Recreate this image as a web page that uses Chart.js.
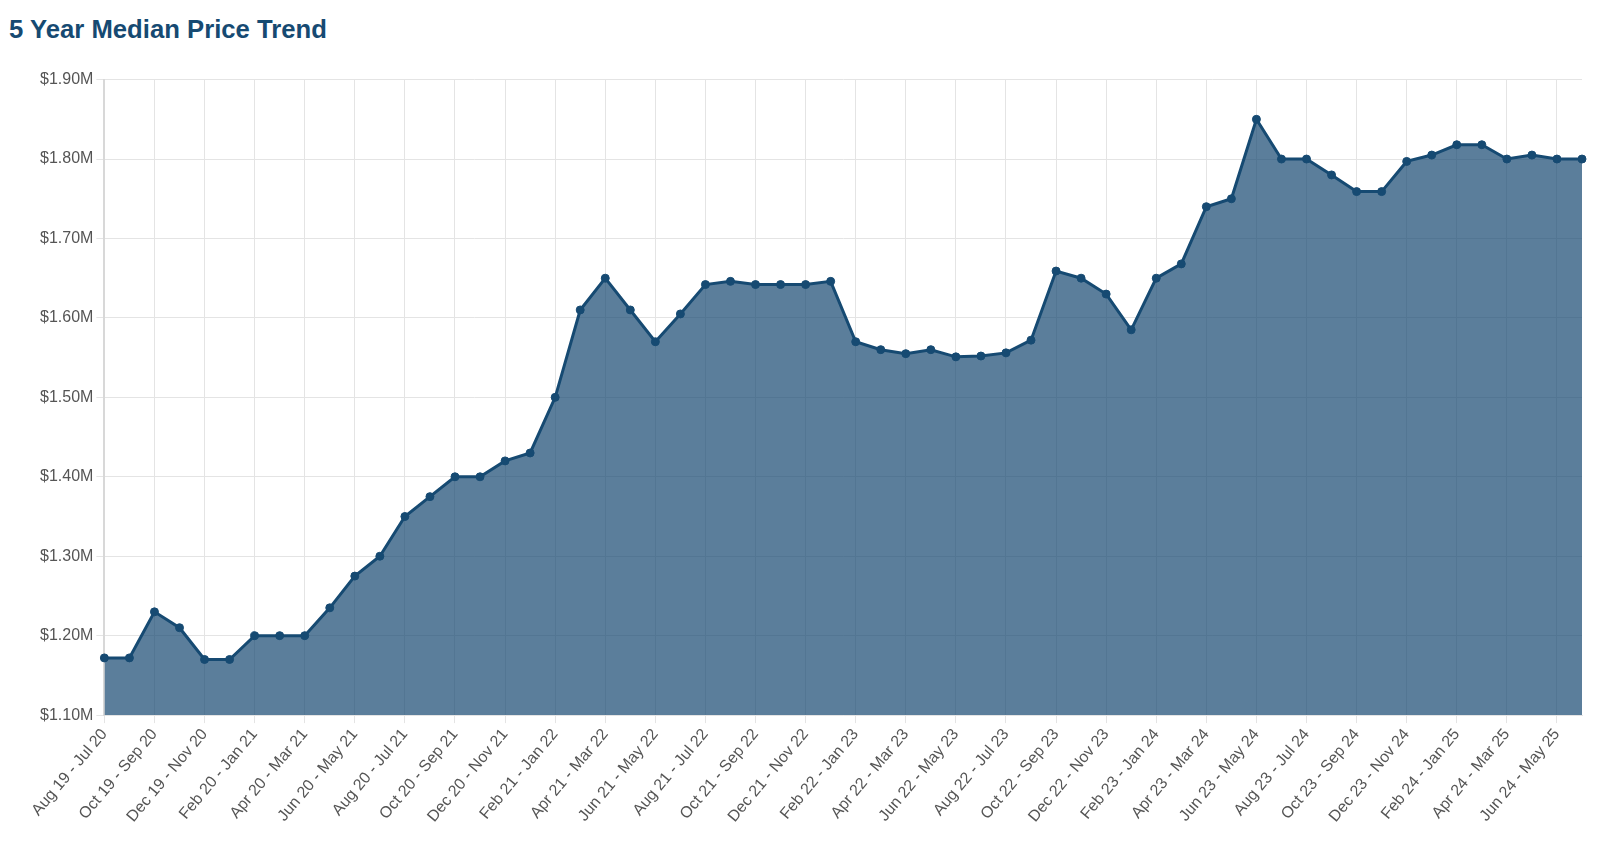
<!DOCTYPE html>
<html>
<head>
<meta charset="utf-8">
<title>5 Year Median Price Trend</title>
<script src="https://cdn.jsdelivr.net/npm/chart.js@4.4.1/dist/chart.umd.min.js"></script>
<style>
    html, body { margin: 0; padding: 0; background: #fff; }
    body { width: 1600px; height: 859px; position: relative; overflow: hidden; font-family: 'Liberation Sans', Arial, sans-serif; }
    h2 { position: absolute; left: 9px; top: 14px; margin: 0; font-size: 25.7px; line-height: 30px; font-weight: bold; color: #164a72; }
    #wrap { position: absolute; left: 0; top: 67px; width: 1600px; height: 761px; }
</style>
</head>
<body>
<h2>5 Year Median Price Trend</h2>
<div id="wrap"><canvas id="chart-price"></canvas></div>
<script>
// Rolling 12 month periods
const periods = [
    "Aug 19 - Jul 20", "Sep 19 - Aug 20", "Oct 19 - Sep 20", "Nov 19 - Oct 20", "Dec 19 - Nov 20", "Jan 20 - Dec 20",
    "Feb 20 - Jan 21", "Mar 20 - Feb 21", "Apr 20 - Mar 21", "May 20 - Apr 21", "Jun 20 - May 21", "Jul 20 - Jun 21",
    "Aug 20 - Jul 21", "Sep 20 - Aug 21", "Oct 20 - Sep 21", "Nov 20 - Oct 21", "Dec 20 - Nov 21", "Jan 21 - Dec 21",
    "Feb 21 - Jan 22", "Mar 21 - Feb 22", "Apr 21 - Mar 22", "May 21 - Apr 22", "Jun 21 - May 22", "Jul 21 - Jun 22",
    "Aug 21 - Jul 22", "Sep 21 - Aug 22", "Oct 21 - Sep 22", "Nov 21 - Oct 22", "Dec 21 - Nov 22", "Jan 22 - Dec 22",
    "Feb 22 - Jan 23", "Mar 22 - Feb 23", "Apr 22 - Mar 23", "May 22 - Apr 23", "Jun 22 - May 23", "Jul 22 - Jun 23",
    "Aug 22 - Jul 23", "Sep 22 - Aug 23", "Oct 22 - Sep 23", "Nov 22 - Oct 23", "Dec 22 - Nov 23", "Jan 23 - Dec 23",
    "Feb 23 - Jan 24", "Mar 23 - Feb 24", "Apr 23 - Mar 24", "May 23 - Apr 24", "Jun 23 - May 24", "Jul 23 - Jun 24",
    "Aug 23 - Jul 24", "Sep 23 - Aug 24", "Oct 23 - Sep 24", "Nov 23 - Oct 24", "Dec 23 - Nov 24", "Jan 24 - Dec 24",
    "Feb 24 - Jan 25", "Mar 24 - Feb 25", "Apr 24 - Mar 25", "May 24 - Apr 25", "Jun 24 - May 25", "Jul 24 - Jun 25"
];

// Median price per period
const medianPrices = [
    1172000, 1172000, 1230000, 1210000, 1170000, 1170000,
    1200000, 1200000, 1200000, 1235000, 1275000, 1300000,
    1350000, 1375000, 1400000, 1400000, 1420000, 1430000,
    1500000, 1610000, 1650000, 1610000, 1570000, 1605000,
    1642000, 1646000, 1642000, 1642000, 1642000, 1646000,
    1570000, 1560000, 1555000, 1560000, 1551000, 1552000,
    1556000, 1572000, 1659000, 1650000, 1630000, 1585000,
    1650000, 1668000, 1740000, 1750000, 1850000, 1800000,
    1800000, 1780000, 1759000, 1759000, 1797000, 1805000,
    1818000, 1818000, 1800000, 1805000, 1800000, 1800000
];

const yMin = 1100000;
const yMax = 1900000;
const yStep = 100000;

Chart.defaults.font.family = "'Liberation Sans', Arial, sans-serif";
Chart.defaults.font.size = 16;
Chart.defaults.color = '#555555';

const gridColor = '#e4e4e4';

const ctx = document.getElementById('chart-price').getContext('2d');
new Chart(ctx, {
    type: 'line',
    data: {
        labels: periods,
        datasets: [{
            label: 'Median Price',
            data: medianPrices,
            borderColor: '#164a72',
            backgroundColor: 'rgba(18, 68, 110, 0.69)',
            borderWidth: 3,
            fill: 'start',
            tension: 0,
            pointRadius: 4,
            pointBackgroundColor: '#164a72',
            pointBorderColor: '#164a72',
            pointBorderWidth: 1
        }]
    },
    options: {
        responsive: true,
        maintainAspectRatio: false,
        animation: false,
        layout: { padding: { left: 37, right: 18, top: 0, bottom: 0 } },
        scales: {
            x: {
                offset: false,
                grid: {
                    color: (c) => (c.index % 2 === 0 ? gridColor : 'rgba(0,0,0,0)'),
                    tickLength: 8
                },
                border: { color: gridColor },
                ticks: {
                    autoSkip: false,
                    maxRotation: 50,
                    minRotation: 50,
                    padding: 2,
                    callback: function (value, index) {
                        return index % 2 === 0 ? this.getLabelForValue(value) : '';
                    }
                }
            },
            y: {
                min: yMin,
                max: yMax,
                grid: { color: gridColor, tickLength: 8 },
                border: { color: '#d8d8d8', width: 2 },
                ticks: {
                    stepSize: yStep,
                    padding: 3,
                    callback: (v) => '$' + (v / 1000000).toFixed(2) + 'M'
                }
            }
        },
        plugins: {
            legend: { display: false },
            tooltip: {
                callbacks: {
                    label: (context) => '$' + (context.parsed.y / 1000000).toFixed(3) + 'M'
                }
            }
        }
    }
});
</script>
</body>
</html>
